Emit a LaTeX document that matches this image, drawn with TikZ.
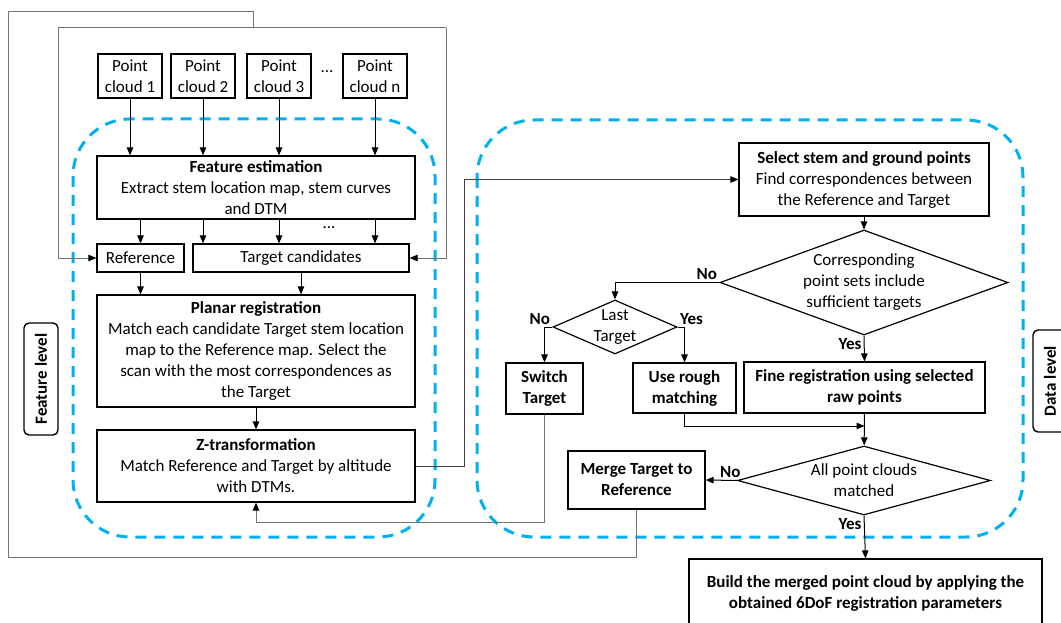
\documentclass[tikz,border=0pt]{standalone}
\usepackage{fontspec}
\setmainfont{Carlito}
\usetikzlibrary{arrows.meta,shapes.geometric}
\definecolor{levelblue}{RGB}{0,176,240}

\begin{document}
\begin{tikzpicture}[x=1pt,y=-1pt,
    font=\fontsize{17}{21}\selectfont,
    box/.style={draw,line width=1.2pt,inner sep=0pt,align=center},
    cloudbox/.style={box,line width=2.4pt,minimum width=64pt,minimum height=44pt},
    decision/.style={draw,line width=1.2pt,diamond,inner xsep=0pt,align=center},
    levelbox/.style={draw,line width=1.4pt,rounded corners=5pt,rotate=90,inner sep=0pt,
      minimum height=34pt,font=\fontsize{17}{21}\selectfont\bfseries},
    answer/.style={inner sep=2pt,font=\fontsize{17}{21}\selectfont\bfseries},
    level/.style={levelblue,line width=3pt,dash pattern=on 11pt off 8pt,rounded corners=57pt},
    feedback/.style={black!55,line width=1pt},
    arr/.style={-{Triangle[length=8pt,width=6.5pt,color=black]}}]
  \useasboundingbox (0,0) rectangle (1061,623);

  % dashed frames of the two levels
  \draw[level] (73,119) rectangle (435,537);
  \draw[level] (477,120) rectangle (1023,537);

  % feature level
  \draw
    (130,76) node[cloudbox] (pc1){Point\\cloud 1}
    (203,76) node[cloudbox] (pc2){Point\\cloud 2}
    (279,76) node[cloudbox] (pc3){Point\\cloud 3}
    (327,72) node[] (pcdots){...}
    (375,76) node[cloudbox] (pcn){Point\\cloud n}
    (256,187.5) node[box,minimum width=318pt,minimum height=63pt] (feat)
      {\textbf{Feature estimation}\\Extract stem location map, stem curves\\and DTM}
    (329,228) node[] (featdots){...}
    (140.5,258) node[box,minimum width=87pt,minimum height=28pt] (ref){Reference}
    (301,258) node[box,minimum width=216pt,minimum height=28pt] (tcand){Target candidates}
    (256,351) node[box,minimum width=318pt,minimum height=112pt] (planar)
      {\textbf{Planar registration}\\Match each candidate Target stem location\\map to the Reference map. Select the\\scan with the most correspondences as\\the Target}
    (256,466) node[box,minimum width=318pt,minimum height=72pt] (ztrans)
      {\textbf{Z-transformation}\\Match Reference and Target by altitude\\with DTMs.}
    (41,379) node[levelbox,minimum width=112pt] (featlevel){Feature level};

  % data level
  \draw
    (864,179.5) node[box,minimum width=250pt,minimum height=73pt] (select)
      {\textbf{Select stem and ground points}\\Find correspondences between\\the Reference and Target}
    (864,282.5) node[decision,minimum width=288pt,minimum height=105pt,aspect=2.74,inner ysep=-4pt] (corr)
      {Corresponding\\point sets include\\sufficient targets}
    (615,327) node[decision,minimum width=124pt,minimum height=54pt,aspect=2.3,inner ysep=-7pt] (last)
      {Last\\Target}
    (544.5,388.5) node[box,minimum width=77pt,minimum height=51pt,font=\fontsize{17}{21}\selectfont\bfseries] (switch)
      {Switch\\Target}
    (684.5,388) node[box,minimum width=103pt,minimum height=50pt,font=\fontsize{17}{21}\selectfont\bfseries] (rough)
      {Use rough\\matching}
    (864.5,387.5) node[box,minimum width=241pt,minimum height=51pt,font=\fontsize{17}{21}\selectfont\bfseries] (fine)
      {Fine registration using selected\\raw points}
    (864,480.5) node[decision,minimum width=253pt,minimum height=69pt,aspect=3.67,inner ysep=-4pt] (allpc)
      {All point clouds\\matched}
    (636.5,480) node[box,minimum width=137pt,minimum height=58pt,font=\fontsize{17}{21}\selectfont\bfseries] (merge)
      {Merge Target to\\Reference}
    (865.5,593) node[box,minimum width=353pt,minimum height=68pt,font=\fontsize{17}{21}\selectfont\bfseries] (build)
      {Build the merged point cloud by applying the\\obtained 6DoF registration parameters}
    (1050,381) node[levelbox,minimum width=102pt] (datalevel){Data level};

  % bends of the feedback lines
  \coordinate (lowleft) at (8,557);
  \coordinate (topleft) at (8,12);
  \coordinate (split) at (253,28);
  \coordinate (splitL) at (58,28);
  \coordinate (splitR) at (446,28);
  \coordinate (join) at (864.5,426);

  \begin{scope}[arr,line width=1pt]
    \draw (pc1.south) -- (pc1.south |- feat.north);
    \draw (pc2.south) -- (pc2.south |- feat.north);
    \draw (pc3.south) -- (pc3.south |- feat.north);
    \draw (pcn.south) -- (pcn.south |- feat.north);
    \draw (feat.south -| ref) -- (ref.north);
    \draw (feat.south -| pc2) -- (tcand.north -| pc2);
    \draw (feat.south -| pc3) -- (tcand.north -| pc3);
    \draw (feat.south -| pcn) -- (tcand.north -| pcn);
    \draw (ref.south) -- (ref.south |- planar.north);
    \draw (tcand.south) -- (tcand.south |- planar.north);
    \draw (planar) -- (ztrans);
    \draw (select) -- (corr);
    \draw (corr.west) -| node[answer,above left,pos=0]{No} (last.north);
    \draw (last.west) -| node[answer,above left,pos=0]{No} (switch.north);
    \draw (last.east) -| node[answer,above right,pos=0]{Yes} (rough.north);
    \draw (corr.south) -- node[answer,below left,pos=0]{Yes} (fine.north);
    \draw (rough.south) |- (join);
    \draw (fine) -- (allpc);
    \draw (allpc.west) -- node[answer,above left,pos=0,xshift=6pt]{No} (merge.east);
    \draw (allpc.south) -- node[answer,below left,pos=0]{Yes} (build.north);
  \end{scope}

  % feedback lines
  \draw[feedback] (merge.south) |- (lowleft) -- (topleft) -| (split);
  \draw[feedback] (splitL) -- (splitR);
  \draw[feedback,arr] (splitL) |- (ref.west);
  \draw[feedback,arr] (splitR) |- (tcand.east);
  \draw[feedback,arr] (switch.south) -- ++(0,108) -| (ztrans.south);
  \draw[feedback,black!75,arr] (ztrans.east) -- ++(49,0) |- (select.west);
\end{tikzpicture}
\end{document}
